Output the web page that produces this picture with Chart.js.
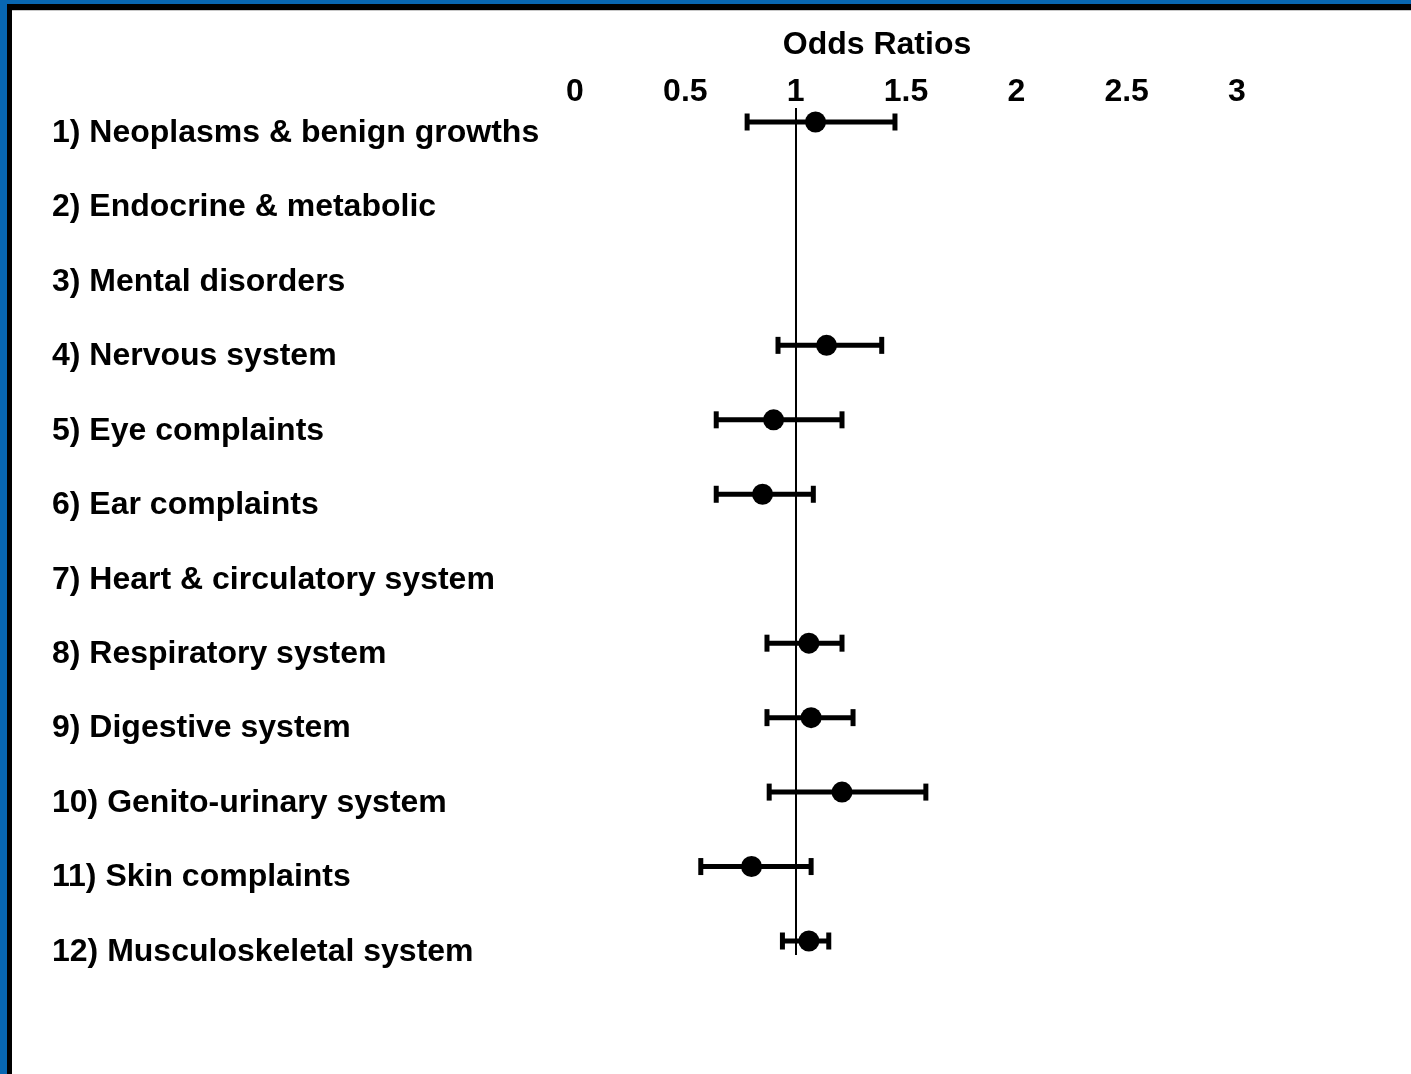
<!DOCTYPE html>
<html>
<head>
<meta charset="utf-8">
<title>Odds Ratios by complaint group</title>
<script src="https://cdn.jsdelivr.net/npm/chart.js@4.4.1/dist/chart.umd.min.js"></script>
<style>
  html, body { margin: 0; padding: 0; background: #fff; overflow: hidden; }
  #frame { position: relative; width: 1411px; height: 1074px; }
  #chart { position: absolute; left: 0; top: 0; }
  .edge { position: absolute; }
</style>
</head>
<body>
<div id="frame">
  <canvas id="chart" width="1411" height="1074"></canvas>
  <!-- slide frame: blue outer band, black inner band -->
  <div class="edge" style="left:0;top:0;width:1411px;height:4px;background:#0867b2"></div>
  <div class="edge" style="left:0;top:0;width:7px;height:1074px;background:#0867b2"></div>
  <div class="edge" style="left:7px;top:4px;width:1404px;height:6px;background:#000"></div>
  <div class="edge" style="left:7px;top:4px;width:5px;height:1070px;background:#000"></div>
  <div class="edge" style="left:12px;top:10px;width:1399px;height:1px;background:#c8c8c8"></div>
</div>
<script>
// Complaint groups, top to bottom
const categories = [
  '1) Neoplasms & benign growths',
  '2) Endocrine & metabolic',
  '3) Mental disorders',
  '4) Nervous system',
  '5) Eye complaints',
  '6) Ear complaints',
  '7) Heart & circulatory system',
  '8) Respiratory system',
  '9) Digestive system',
  '10) Genito-urinary system',
  '11) Skin complaints',
  '12) Musculoskeletal system'
];

// Odds ratio point estimates and 95% confidence limits (null = not shown)
const oddsRatio = [1.09, null, null, 1.14, 0.90, 0.85, null, 1.06, 1.07, 1.21, 0.80, 1.06];
const ciLower   = [0.78, null, null, 0.92, 0.64, 0.64, null, 0.87, 0.87, 0.88, 0.57, 0.94];
const ciUpper   = [1.45, null, null, 1.39, 1.21, 1.08, null, 1.21, 1.26, 1.59, 1.07, 1.15];

// Horizontal axis tick values
const axisTicks = [0, 0.5, 1, 1.5, 2, 2.5, 3];
const axisTitle = 'Odds Ratios';

const FONT_FAMILY = '"Liberation Sans", Arial, Helvetica, sans-serif';
const FONT_SIZE = 32;

// Confidence interval segments: one segment per group, broken by a null point
const intervalPoints = [];
categories.forEach((_, i) => {
  if (ciLower[i] == null || ciUpper[i] == null) return;
  intervalPoints.push({ x: ciLower[i], y: i + 1 });
  intervalPoints.push({ x: ciUpper[i], y: i + 1 });
  intervalPoints.push({ x: ciUpper[i], y: null });
});

const estimatePoints = [];
categories.forEach((_, i) => {
  if (oddsRatio[i] == null) return;
  estimatePoints.push({ x: oddsRatio[i], y: i + 1 });
});

// Heading above the ratio axis
const captionPlugin = {
  id: 'caption',
  afterDraw(chart) {
    const ctx = chart.ctx;
    ctx.save();
    ctx.font = `bold ${FONT_SIZE}px ${FONT_FAMILY}`;
    ctx.fillStyle = '#000';
    ctx.textAlign = 'center';
    ctx.textBaseline = 'middle';
    ctx.fillText(axisTitle, 877, 45);
    ctx.restore();
  }
};

new Chart(document.getElementById('chart'), {
  type: 'scatter',
  data: {
    datasets: [
      {
        label: 'Odds ratio',
        data: estimatePoints,
        pointRadius: 10.5,
        pointHoverRadius: 10.5,
        pointBackgroundColor: '#000',
        pointBorderWidth: 0
      },
      {
        type: 'line',
        label: '95% CI',
        data: intervalPoints,
        showLine: true,
        spanGaps: false,
        borderColor: '#000',
        borderWidth: 5,
        borderCapStyle: 'butt',
        pointStyle: 'line',
        pointRotation: 90,
        pointRadius: 8.5,
        pointHoverRadius: 8.5,
        pointBorderColor: '#000',
        pointBorderWidth: 5,
        fill: false,
        tension: 0
      }
    ]
  },
  options: {
    responsive: false,
    animation: false,
    events: [],
    layout: { padding: { left: 52, right: 174, top: 0, bottom: 119 } },
    plugins: {
      legend: { display: false },
      tooltip: { enabled: false },
      title: { display: false }
    },
    scales: {
      x: {
        type: 'linear',
        position: 'top',
        min: 0,
        max: 3,
        afterBuildTicks(scale) {
          scale.ticks = axisTicks.map(v => ({ value: v }));
        },
        afterFit(scale) { scale.height = 108; },
        border: { display: false },
        grid: {
          drawTicks: false,
          lineWidth: 2,
          color: ctx => (ctx.tick && ctx.tick.value === 1 ? '#000' : 'rgba(0,0,0,0)')
        },
        ticks: {
          autoSkip: false,
          maxRotation: 0,
          padding: 0,
          color: '#000',
          font: { family: FONT_FAMILY, size: FONT_SIZE, weight: 'bold', lineHeight: 1 },
          callback: v => String(v)
        }
      },
      y: {
        type: 'linear',
        position: 'left',
        reverse: true,
        min: 0.812,
        max: 12.188,
        afterBuildTicks(scale) {
          scale.ticks = categories.map((_, i) => ({ value: i + 1 }));
        },
        afterFit(scale) { scale.width = 523; },
        border: { display: false },
        grid: { display: false, drawTicks: false },
        ticks: {
          autoSkip: false,
          crossAlign: 'far',
          labelOffset: 11,
          color: '#000',
          font: { family: FONT_FAMILY, size: FONT_SIZE, weight: 'bold', lineHeight: 1.2 },
          callback: v => categories[Math.round(v) - 1] || ''
        }
      }
    }
  },
  plugins: [captionPlugin]
});
</script>
</body>
</html>
